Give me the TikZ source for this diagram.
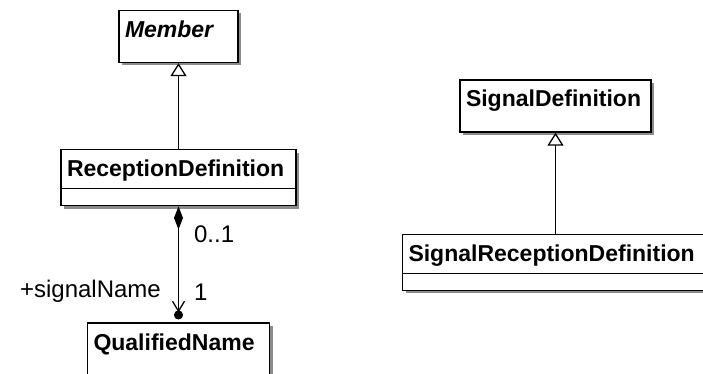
\documentclass[tikz,border=0pt]{standalone}
\usepackage{fontspec}
\setmainfont{Liberation Sans}
\usetikzlibrary{arrows.meta,positioning,shadows}

\begin{document}
\begin{tikzpicture}[
        x=1pt, y=-1pt,
        cls/.style={
            draw,
            line width=1.3pt,
            fill=white,
            drop shadow={shadow xshift=3pt, shadow yshift=-3pt, fill=black!45, opacity=1},
            align=left,
            inner xsep=6pt,
            inner ysep=10pt,
            text height=17pt,
            text depth=15pt,
            font=\fontsize{23}{27}\selectfont\bfseries
        },
        clsattr/.style={
            cls,
            text depth=19pt,
            path picture={\draw[line width=1.3pt] ([yshift=-39pt]path picture bounding box.north west) -- ([yshift=-39pt]path picture bounding box.north east);}
        },
        gen/.style={-{Triangle[open, length=13pt, width=16pt, fill=white]}, line width=1.3pt},
        comp/.style={{Diamond[length=23pt, width=9pt]}-{Straight Barb[length=10pt, width=12pt, sep=-2pt] Circle[length=9pt]}, line width=1.3pt, shorten >=3pt},
        role/.style={font=\fontsize{24}{28}\selectfont, inner sep=2pt}
    ]
        \useasboundingbox (0,0) rectangle (703,374);

        % Klassen links
        \node[cls, text width=107pt] (member) at (178.5,36.5) {\itshape Member};
        \node[clsattr, text width=223pt, below=86pt of member] (recdef) {ReceptionDefinition};
        \node[cls, text width=170pt, below=116pt of recdef] (qname) {QualifiedName};

        % Klassen rechts
        \node[cls, text width=179pt] (sigdef) at (555.5,106) {SignalDefinition};
        \node[clsattr, text width=294pt, below=101pt of sigdef] (sigrecdef) {SignalReceptionDefinition};

        % Generalisierungen
        \draw[gen] (recdef) -- (member);
        \draw[gen] (sigrecdef) -- (sigdef);

        % Komposition mit Rollen und Multiplizitaeten
        \draw[comp] (recdef.south) -- (qname.north)
            node[role, pos=0.24, anchor=west, xshift=13pt] {0..1}
            node[role, pos=0.74, anchor=west, xshift=13pt] {1}
            node[role, pos=0.73, anchor=east, xshift=-15pt] {+signalName};
\end{tikzpicture}
\end{document}
